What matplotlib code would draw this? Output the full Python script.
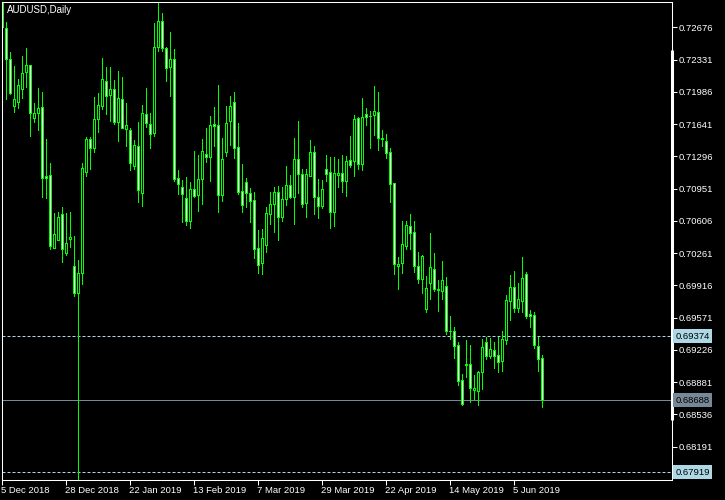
import matplotlib
matplotlib.use("Agg")
import matplotlib.pyplot as plt
import matplotlib.transforms as mtransforms
import numpy as np

chart_title = "AUDUSD,Daily"

opens = [0.73300, 0.72665, 0.72334, 0.71827, 0.71870, 0.72013, 0.72191, 0.72262, 0.71699, 0.71756,
         0.71821, 0.71075, 0.71089, 0.70313, 0.70401, 0.70669, 0.70259, 0.70409, 0.70116, 0.69831,
         0.70045, 0.71121, 0.71471, 0.71382, 0.71692, 0.71834, 0.72091, 0.71942, 0.72013, 0.71656,
         0.71906, 0.71578, 0.71567, 0.71185, 0.71399, 0.70901, 0.71745, 0.71639, 0.71543, 0.72458,
         0.72740, 0.72451, 0.72244, 0.72334, 0.71061, 0.70965, 0.70847, 0.70597, 0.70944, 0.70875,
         0.71043, 0.71318, 0.71286, 0.71631, 0.71624, 0.70875, 0.71335, 0.71667, 0.71874, 0.71389,
         0.70918, 0.71018, 0.70901, 0.70826, 0.70308, 0.70152, 0.70341, 0.70676, 0.70783, 0.70907,
         0.70644, 0.70830, 0.70986, 0.70858, 0.71257, 0.71104, 0.70794, 0.71078, 0.71339, 0.70858,
         0.70758, 0.71158, 0.71125, 0.70698, 0.71089, 0.71115, 0.71025, 0.71250, 0.71239, 0.71699,
         0.71211, 0.71745, 0.71720, 0.71735, 0.71767, 0.71489, 0.71453, 0.71339, 0.71008, 0.70123,
         0.70152, 0.70330, 0.70544, 0.70480, 0.70123, 0.69981, 0.69660, 0.69931, 0.70088, 0.69874,
         0.69849, 0.69902, 0.69428, 0.69421, 0.69275, 0.68897, 0.69065, 0.69072, 0.68790, 0.68779,
         0.68982, 0.69307, 0.69154, 0.69218, 0.69161, 0.69100, 0.69325, 0.69742, 0.69896, 0.69664,
         0.69742, 0.70035, 0.69600, 0.69596, 0.69260, 0.69136]
highs = [0.73400, 0.72733, 0.72415, 0.72265, 0.72126, 0.72369, 0.72455, 0.72276, 0.71863, 0.72027,
         0.71987, 0.71482, 0.71222, 0.70687, 0.70704, 0.70758, 0.70687, 0.70704, 0.70444, 0.70188,
         0.71228, 0.71500, 0.71500, 0.71934, 0.71970, 0.72345, 0.72255, 0.72255, 0.72113, 0.72212,
         0.72141, 0.71863, 0.71596, 0.71471, 0.71667, 0.71842, 0.72024, 0.71756, 0.72725, 0.72939,
         0.72832, 0.72469, 0.72629, 0.72441, 0.71150, 0.71043, 0.71078, 0.71025, 0.71353, 0.71310,
         0.71482, 0.71599, 0.71728, 0.71821, 0.72059, 0.71489, 0.71832, 0.71942, 0.71984, 0.71650,
         0.71211, 0.71064, 0.70954, 0.70912, 0.70508, 0.70516, 0.70758, 0.70912, 0.70972, 0.70982,
         0.70965, 0.71193, 0.71097, 0.71492, 0.71674, 0.71158, 0.71158, 0.71471, 0.71407, 0.71054,
         0.71043, 0.71310, 0.71292, 0.71292, 0.71268, 0.71310, 0.71300, 0.71514, 0.71738, 0.71720,
         0.71917, 0.71813, 0.71781, 0.72048, 0.71984, 0.71578, 0.71532, 0.71382, 0.71008, 0.70223,
         0.70605, 0.70605, 0.70680, 0.70605, 0.70277, 0.70241, 0.70016, 0.70473, 0.70266, 0.69974,
         0.70177, 0.70009, 0.69589, 0.69474, 0.69314, 0.68968, 0.69332, 0.69279, 0.68958, 0.69004,
         0.69343, 0.69367, 0.69357, 0.69311, 0.69367, 0.69428, 0.69813, 0.70027, 0.70070, 0.69938,
         0.70223, 0.70062, 0.69653, 0.69628, 0.69367, 0.69172]
lows = [0.72620, 0.71899, 0.71952, 0.71763, 0.71806, 0.71906, 0.72024, 0.71500, 0.71656, 0.71570,
        0.70854, 0.70840, 0.70295, 0.70302, 0.70394, 0.70152, 0.70230, 0.70313, 0.69795, 0.67150,
        0.69920, 0.71078, 0.71150, 0.71335, 0.71543, 0.71792, 0.71738, 0.71667, 0.71631, 0.71453,
        0.71585, 0.71393, 0.71143, 0.71150, 0.70794, 0.70751, 0.71596, 0.71372, 0.71500, 0.72415,
        0.72415, 0.72094, 0.71927, 0.71025, 0.70883, 0.70587, 0.70551, 0.70519, 0.70847, 0.70704,
        0.70776, 0.71228, 0.71025, 0.71399, 0.70687, 0.70811, 0.71292, 0.71407, 0.71264, 0.70883,
        0.70687, 0.70740, 0.70580, 0.70195, 0.70035, 0.70024, 0.70259, 0.70562, 0.70473, 0.70394,
        0.70597, 0.70768, 0.70837, 0.70559, 0.70890, 0.70740, 0.70640, 0.71072, 0.70672, 0.70623,
        0.70730, 0.71025, 0.70516, 0.70537, 0.70961, 0.70907, 0.70865, 0.71175, 0.71078, 0.71150,
        0.71143, 0.71624, 0.71378, 0.71514, 0.71356, 0.71399, 0.71268, 0.70794, 0.70027, 0.69867,
        0.70035, 0.70295, 0.70295, 0.70052, 0.69931, 0.69824, 0.69618, 0.69760, 0.69849, 0.69635,
        0.69760, 0.69386, 0.69332, 0.69132, 0.68840, 0.68630, 0.68923, 0.68655, 0.68692, 0.68630,
        0.68797, 0.69118, 0.69126, 0.69025, 0.68976, 0.68993, 0.69279, 0.69539, 0.69618, 0.69618,
        0.69618, 0.69557, 0.69457, 0.69233, 0.68993, 0.68603]
closes = [0.72676, 0.72334, 0.71970, 0.71899, 0.72048, 0.72184, 0.72262, 0.71756, 0.71749, 0.71802,
          0.71061, 0.71061, 0.70330, 0.70455, 0.70644, 0.70302, 0.70366, 0.70430, 0.69831, 0.70045,
          0.71168, 0.71471, 0.71382, 0.71692, 0.71842, 0.72120, 0.71934, 0.72006, 0.71656, 0.71917,
          0.71596, 0.71628, 0.71222, 0.71407, 0.70929, 0.71756, 0.71642, 0.71532, 0.72462, 0.72733,
          0.72451, 0.72238, 0.72334, 0.71043, 0.70997, 0.70883, 0.70597, 0.70944, 0.70865, 0.71043,
          0.71346, 0.71286, 0.71624, 0.71613, 0.70875, 0.71264, 0.71650, 0.71832, 0.71382, 0.70912,
          0.70768, 0.70901, 0.70811, 0.70302, 0.70127, 0.70416, 0.70680, 0.70783, 0.70912, 0.70644,
          0.70837, 0.70986, 0.70858, 0.71257, 0.71104, 0.70783, 0.71097, 0.71339, 0.70858, 0.70758,
          0.70936, 0.71104, 0.70698, 0.71115, 0.71115, 0.71029, 0.71243, 0.71196, 0.71685, 0.71204,
          0.71714, 0.71714, 0.71725, 0.71778, 0.71489, 0.71478, 0.71321, 0.70997, 0.70134, 0.70142,
          0.70355, 0.70551, 0.70473, 0.70123, 0.69981, 0.70230, 0.69885, 0.70110, 0.69874, 0.69859,
          0.69966, 0.69421, 0.69421, 0.69260, 0.68886, 0.68644, 0.69054, 0.68815, 0.68815, 0.68987,
          0.69254, 0.69154, 0.69225, 0.69154, 0.69089, 0.69332, 0.69749, 0.69896, 0.69671, 0.69760,
          0.69992, 0.69581, 0.69581, 0.69271, 0.69126, 0.68688]

date_tick_bars = [0, 16, 32, 48, 64, 80, 96, 112, 128]
date_tick_labels = ["5 Dec 2018", "28 Dec 2018", "22 Jan 2019", "13 Feb 2019", "7 Mar 2019",
                    "29 Mar 2019", "22 Apr 2019", "14 May 2019", "5 Jun 2019"]
price_ticks = [0.72676, 0.72331, 0.71986, 0.71641, 0.71296, 0.70951, 0.70606, 0.70261,
               0.69916, 0.69571, 0.69226, 0.68881, 0.68536, 0.68191]
dashed_levels = [0.69374, 0.67919]
bid_level = 0.68688

GREEN = "#00ff00"
LIGHTBLUE = "#add8e6"
SLATE = "#778899"
FONT = "Liberation Sans"

W, H = 725, 500
fig = plt.figure(figsize=(W / 100, H / 100), dpi=100, facecolor="black")
ax_left, ax_right, ax_top, ax_bottom = 2, 672, 2.3, 479.5
ax = fig.add_axes([ax_left / W, (H - ax_bottom) / H, (ax_right - ax_left) / W, (ax_bottom - ax_top) / H])
ax.set_facecolor("black")

o = np.array(opens); h = np.array(highs); l = np.array(lows); c = np.array(closes)
x = np.arange(len(o))

ymin, ymax = 0.67840, 0.72943
ax.set_xlim(0, (ax_right - ax_left) / 4.0)   # 4 px per bar
ax.set_ylim(ymin, ymax)
px_x = 0.25                                   # one pixel in bar units
px_y = (ymax - ymin) / (ax_bottom - ax_top)   # one pixel in price units

# reference lines
for lv in dashed_levels:
    ax.axhline(lv, color=LIGHTBLUE, lw=0.72, dashes=(3, 2), zorder=1)
ax.axhline(bid_level, color=SLATE, lw=0.72, zorder=1)

# wicks: one pixel column, centred on the body
ax.bar(x, h - l, bottom=l, width=px_x, align="edge", color=GREEN, linewidth=0, zorder=2)

# bodies: 3 px green block with a 1 px inner fill
bull = c >= o
bottoms = np.minimum(o, c)
heights = np.abs(c - o)
ax.bar(x - px_x, heights + px_y, bottom=bottoms - px_y / 2, width=3 * px_x, align="edge",
       color=GREEN, linewidth=0, zorder=3)
inner_h = heights - px_y
has_inner = inner_h > 0
for mask, fill in [(bull & has_inner, "black"), (~bull & has_inner, "white")]:
    ax.bar(x[mask], inner_h[mask], bottom=bottoms[mask] + px_y / 2, width=px_x, align="edge",
           color=fill, linewidth=0, zorder=4)

# spines
for s in ax.spines.values():
    s.set_color("white")
    s.set_linewidth(0.75)
    s.set_zorder(5)

# price axis on right
ax.yaxis.tick_right()
ax.set_yticks(price_ticks)
ax.set_yticklabels([f"{p:.5f}" for p in price_ticks], fontfamily=FONT)
ax.tick_params(axis="y", colors="white", length=3.5, width=0.75, labelsize=6.8, pad=1.2)

# time axis
ax.set_xticks(date_tick_bars)
ax.set_xticklabels(date_tick_labels, fontfamily=FONT, ha="left")
ax.tick_params(axis="x", colors="white", length=3.5, width=0.75, labelsize=6.8, pad=1.5)
offset = mtransforms.ScaledTranslation(-1 / 100, 0, fig.dpi_scale_trans)
for t in ax.get_xticklabels():
    t.set_horizontalalignment("left")
    t.set_transform(t.get_transform() + offset)

# highlighted price labels
trans = mtransforms.blended_transform_factory(ax.transAxes, ax.transData)
for lv, bg in [(dashed_levels[0], LIGHTBLUE), (bid_level, SLATE), (dashed_levels[1], LIGHTBLUE)]:
    ax.text(1.0 + 3.5 / (ax_right - ax_left), lv, f"{lv:.5f}", transform=trans, ha="left", va="center",
            fontsize=6.8, fontfamily=FONT, color="black", clip_on=False, zorder=6,
            bbox=dict(boxstyle="square,pad=0.25", facecolor=bg, edgecolor="none"))

# thick white segment on the right border
ax.plot([1.0, 1.0], [(ax_bottom - 50) / (ax_bottom - ax_top), (ax_bottom - 420) / (ax_bottom - ax_top)],
        transform=ax.transAxes, color="white", lw=2.2, clip_on=False, solid_capstyle="butt", zorder=5)

# title
ax.text(4.5 / (ax_right - ax_left), 1 - 2.5 / (ax_bottom - ax_top), chart_title, transform=ax.transAxes,
        ha="left", va="top", color="white", fontsize=7, fontfamily=FONT, zorder=6)

fig.savefig("out.png", dpi=100, facecolor="black")
